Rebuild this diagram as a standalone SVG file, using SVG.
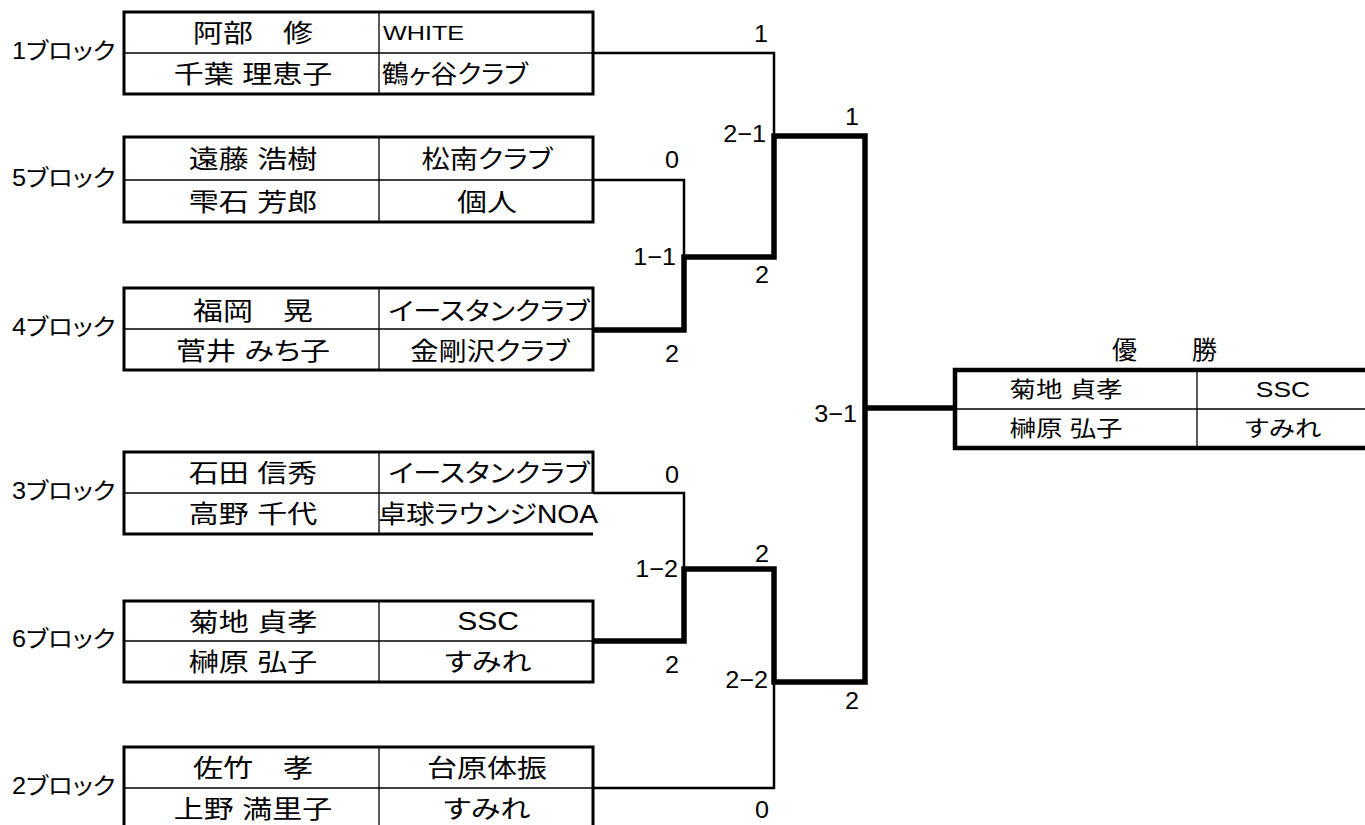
<svg xmlns="http://www.w3.org/2000/svg" width="1365" height="825" viewBox="0 0 1365 825">
<style>
.bg{fill:#fff}
.box{fill:#fff;stroke:#000;stroke-width:3}
.open{fill:none;stroke:#000;stroke-width:3}
.div{stroke:#000;stroke-width:1.3}
.t{font-family:'Liberation Sans','Noto Sans CJK JP',sans-serif;font-size:25px;fill:#000;font-feature-settings:"palt" 1;transform-box:fill-box;transform-origin:center;transform:scaleX(1.2)}
.lbl{font-size:23px;transform-origin:left center;transform:scaleX(1.1)}
.left{transform-origin:left center}
.lat{font-size:21px}
.k{transform:scaleX(1.13)}
.k2{transform:scaleX(1.07)}
.s{font-size:24px;transform:scaleX(1.05)}
.ch{font-size:22px}
.hd{font-size:25px;transform:none}
.c{text-anchor:middle}
.r{text-anchor:end;transform-origin:right center}
.thin{fill:none;stroke:#000;stroke-width:2.5}
.thick{fill:none;stroke:#000;stroke-width:5.5}
.champ{fill:#fff;stroke:#000;stroke-width:4.5}
</style>
<rect class="bg" x="0" y="0" width="1365" height="825"/>

<g id="connectors">
<path class="thin" d="M593,53 H774 V136"/>
<path class="thin" d="M593,180 H684 V257"/>
<path class="thin" d="M593,493 H684 V569"/>
<path class="thin" d="M593,788 H774 V682"/>
<path class="thick" d="M593,330 H684 V257 H774 V136 H865 V682 H774 V569 H684 V641 H593"/>
<path class="thick" d="M865,408 H955"/>
</g>

<g id="scores">
<text class="t s c" x="761" y="42">1</text>
<text class="t s r" x="766" y="142">2−1</text>
<text class="t s c" x="852" y="125">1</text>
<text class="t s c" x="672" y="168">0</text>
<text class="t s r" x="676" y="265">1−1</text>
<text class="t s c" x="762" y="283">2</text>
<text class="t s c" x="672" y="362">2</text>
<text class="t s r" x="857" y="422">3−1</text>
<text class="t s c" x="672" y="483">0</text>
<text class="t s r" x="678" y="577">1−2</text>
<text class="t s c" x="762" y="562">2</text>
<text class="t s c" x="672" y="673">2</text>
<text class="t s r" x="768" y="688">2−2</text>
<text class="t s c" x="852" y="709">2</text>
<text class="t s c" x="762" y="818">0</text>
</g>

<g id="block1">
<text class="t lbl" x="12" y="59">1ブロック</text>
<rect class="box" x="124" y="12" width="469" height="82"/>
<line class="div" x1="124" y1="53" x2="593" y2="53"/>
<line class="div" x1="379" y1="12" x2="379" y2="94"/>
<text class="t c" x="253" y="42">阿部　修</text>
<text class="t lat left" x="383" y="40">WHITE</text>
<text class="t c" x="253" y="83">千葉 理恵子</text>
<text class="t left k2" x="382" y="83">鶴ヶ谷クラブ</text>
</g>

<g id="block5">
<text class="t lbl" x="12" y="186">5ブロック</text>
<rect class="box" x="124" y="137" width="469" height="85"/>
<line class="div" x1="124" y1="180" x2="593" y2="180"/>
<line class="div" x1="379" y1="137" x2="379" y2="222"/>
<text class="t c" x="253" y="168">遠藤 浩樹</text>
<text class="t c k" x="487" y="168">松南クラブ</text>
<text class="t c" x="253" y="211">雫石 芳郎</text>
<text class="t c" x="487" y="211">個人</text>
</g>

<g id="block4">
<text class="t lbl" x="12" y="335">4ブロック</text>
<rect class="box" x="124" y="288" width="469" height="82"/>
<line class="div" x1="124" y1="329" x2="593" y2="329"/>
<line class="div" x1="379" y1="288" x2="379" y2="370"/>
<text class="t c" x="253" y="320">福岡　晃</text>
<text class="t c k" x="489" y="320">イースタンクラブ</text>
<text class="t c" x="253" y="360">菅井 みち子</text>
<text class="t c k" x="490" y="360">金剛沢クラブ</text>
</g>

<g id="block3">
<text class="t lbl" x="12" y="499">3ブロック</text>
<path class="open" d="M593,493 V452 H124 V534 H593"/>
<line class="div" x1="124" y1="493" x2="593" y2="493"/>
<line class="div" x1="379" y1="452" x2="379" y2="534"/>
<text class="t c" x="253" y="482">石田 信秀</text>
<text class="t c k" x="489" y="482">イースタンクラブ</text>
<text class="t c" x="253" y="523">高野 千代</text>
<text class="t c k" x="488" y="523">卓球ラウンジNOA</text>
</g>

<g id="block6">
<text class="t lbl" x="12" y="647">6ブロック</text>
<rect class="box" x="124" y="601" width="469" height="81"/>
<line class="div" x1="124" y1="641" x2="593" y2="641"/>
<line class="div" x1="379" y1="601" x2="379" y2="682"/>
<text class="t c" x="253" y="631">菊地 貞孝</text>
<text class="t c" x="488" y="630">SSC</text>
<text class="t c" x="253" y="671">榊原 弘子</text>
<text class="t c" x="488" y="671">すみれ</text>
</g>

<g id="block2">
<text class="t lbl" x="12" y="794">2ブロック</text>
<rect class="box" x="124" y="747" width="469" height="85"/>
<line class="div" x1="124" y1="788" x2="593" y2="788"/>
<line class="div" x1="379" y1="747" x2="379" y2="832"/>
<text class="t c" x="253" y="777">佐竹　孝</text>
<text class="t c" x="487" y="777">台原体振</text>
<text class="t c" x="253" y="818">上野 満里子</text>
<text class="t c" x="487" y="818">すみれ</text>
</g>

<g id="champion">
<text class="t hd" y="359"><tspan x="1112">優</tspan><tspan x="1192">勝</tspan></text>
<rect class="champ" x="955" y="370" width="420" height="78"/>
<line class="div" x1="955" y1="409" x2="1375" y2="409"/>
<line class="div" x1="1197" y1="370" x2="1197" y2="448"/>
<text class="t ch c" x="1066" y="397">菊地 貞孝</text>
<text class="t ch c" x="1283" y="397">SSC</text>
<text class="t ch c" x="1066" y="436">榊原 弘子</text>
<text class="t ch c" x="1283" y="436">すみれ</text>
</g>
</svg>
